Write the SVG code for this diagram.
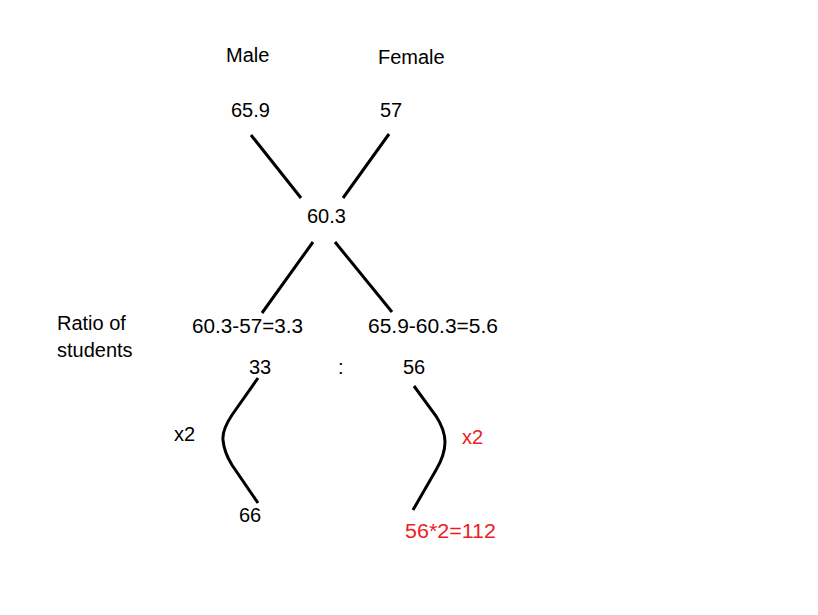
<svg xmlns="http://www.w3.org/2000/svg" width="818" height="615" viewBox="0 0 818 615">
<style>
text{font-family:"Liberation Sans",Arial,sans-serif;font-size:20px;fill:#000}
.red{fill:#ee1c24}
.ln{stroke:#000;stroke-width:3;fill:none;stroke-linecap:butt}
</style>
<rect width="818" height="615" fill="#fff"/>
<g id="connectors">
<line class="ln" x1="251" y1="135" x2="301" y2="198"/>
<line class="ln" x1="389" y1="134" x2="343" y2="198"/>
<line class="ln" x1="313" y1="242" x2="262" y2="313"/>
<line class="ln" x1="335" y1="242" x2="392" y2="312"/>
<path class="ln" d="M258,378 L232,415 Q222,430 223,440 Q224,452 232,465 L258,503"/>
<path class="ln" d="M414,386 L436,416 Q445,430 445,442 Q445,455 436,470 L413,510"/>
</g>
<g id="male"><text x="226" y="62">Male</text></g>
<g id="female"><text x="378" y="64">Female</text></g>
<g id="v659"><text x="231" y="117">65.9</text></g>
<g id="v57"><text x="380" y="117">57</text></g>
<g id="v603"><text x="307" y="223">60.3</text></g>
<g id="ratio"><text x="57" y="330">Ratio of</text><text x="57" y="357">students</text></g>
<g id="diff1"><text x="192" y="333" textLength="111" lengthAdjust="spacingAndGlyphs">60.3-57=3.3</text></g>
<g id="diff2"><text x="368" y="333" textLength="130" lengthAdjust="spacingAndGlyphs">65.9-60.3=5.6</text></g>
<g id="v33"><text x="249" y="374">33</text></g>
<g id="colon"><text x="338" y="374">:</text></g>
<g id="v56"><text x="403" y="374">56</text></g>
<g id="x2left"><text x="174" y="441">x2</text></g>
<g id="x2right"><text class="red" x="462" y="444">x2</text></g>
<g id="v66"><text x="239" y="522">66</text></g>
<g id="v112"><text class="red" x="405" y="538" textLength="91" lengthAdjust="spacingAndGlyphs">56*2=112</text></g>
</svg>
